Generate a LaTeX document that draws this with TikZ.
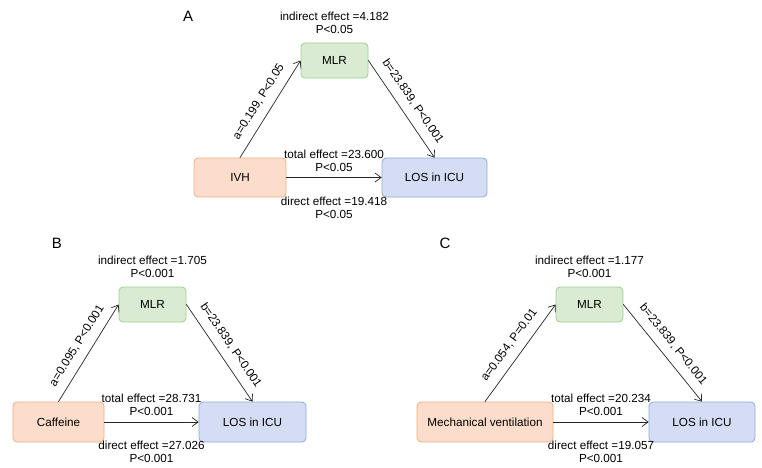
\documentclass[tikz,border=0pt]{standalone}
\usepackage{fontspec}
\setmainfont{Liberation Sans}
\usetikzlibrary{arrows.meta,positioning}
\definecolor{xfill}{HTML}{FCDDCB}
\definecolor{xdraw}{HTML}{EFAE80}
\definecolor{mfill}{HTML}{D9EBD3}
\definecolor{mdraw}{HTML}{9FCF8A}
\definecolor{yfill}{HTML}{D4DDF3}
\definecolor{ydraw}{HTML}{8FAADC}
\begin{document}
\begin{tikzpicture}[x=1pt, y=-1pt, font=\fontsize{11.7}{13}\selectfont, line join=round, line cap=round,
    >={Straight Barb[length=6pt,width=9pt]},
    box/.style={draw, rounded corners=4pt, minimum height=39pt, line width=0.8pt},
    xbox/.style={box, fill=xfill, draw=xdraw},
    mbox/.style={box, fill=mfill, draw=mdraw, minimum width=67pt, minimum height=35pt},
    ybox/.style={box, fill=yfill, draw=ydraw},
    eff/.style={align=center, inner sep=1pt},
    link/.style={->, line width=0.7pt, draw=black!85},
    coef/.style={midway, sloped, above, inner sep=8.5pt},
    panel/.style={font=\fontsize{15}{16}\selectfont}]
  \useasboundingbox (0,0) rectangle (762,467);
  % A
  \node[panel] (labA) at (188,16) {A};
  \node[xbox, minimum width=92pt] (ivh) at (240,177.5) {IVH};
  \node[mbox] (mlrA) at (334.5,60.5) {MLR};
  \node[ybox, minimum width=105pt] (losA) at (434.5,177.5) {LOS in ICU};
  \node[eff, above=8pt of mlrA] (indA) {indirect effect =4.182\\P<0.05};
  \draw[link] (ivh.north) -- (mlrA.west) node[coef]{a=0.199, P<0.05};
  \draw[link] (mlrA.east) -- (losA.north) node[coef]{b=23.839, P<0.001};
  \draw[link] (ivh) -- (losA) node[midway, above=5pt, eff]{total effect =23.600\\P<0.05}
    node[midway, below=18pt, eff]{direct effect =19.418\\P<0.05};
  % B
  \node[panel] (labB) at (57,243) {B};
  \node[xbox, minimum width=91pt, minimum height=40pt] (caf) at (58.5,422) {Caffeine};
  \node[mbox] (mlrB) at (152.5,304.5) {MLR};
  \node[ybox, minimum width=107pt, minimum height=40pt] (losB) at (252.5,422) {LOS in ICU};
  \node[eff, above=8pt of mlrB] (indB) {indirect effect =1.705\\P<0.001};
  \draw[link] (caf.north) -- (mlrB.west) node[coef]{a=0.095, P<0.001};
  \draw[link] (mlrB.east) -- (losB.north) node[coef]{b=23.839, P<0.001};
  \draw[link] (caf) -- (losB) node[midway, above=5pt, eff]{total effect =28.731\\P<0.001}
    node[midway, below=18pt, eff]{direct effect =27.026\\P<0.001};
  % C
  \node[panel] (labC) at (445,243) {C};
  \node[xbox, minimum width=136pt, minimum height=40pt] (mv) at (485,422) {Mechanical ventilation};
  \node[mbox] (mlrC) at (589.5,304.5) {MLR};
  \node[ybox, minimum width=106pt, minimum height=40pt] (losC) at (702,422) {LOS in ICU};
  \node[eff, above=8pt of mlrC] (indC) {indirect effect =1.177\\P<0.001};
  \draw[link] (mv.north) -- (mlrC.west) node[coef]{a=0.054, P=0.01};
  \draw[link] (mlrC.east) -- (losC.north) node[coef]{b=23.839, P<0.001};
  \draw[link] (mv) -- (losC) node[midway, above=5pt, eff]{total effect =20.234\\P<0.001}
    node[midway, below=18pt, eff]{direct effect =19.057\\P<0.001};
\end{tikzpicture}
\end{document}
